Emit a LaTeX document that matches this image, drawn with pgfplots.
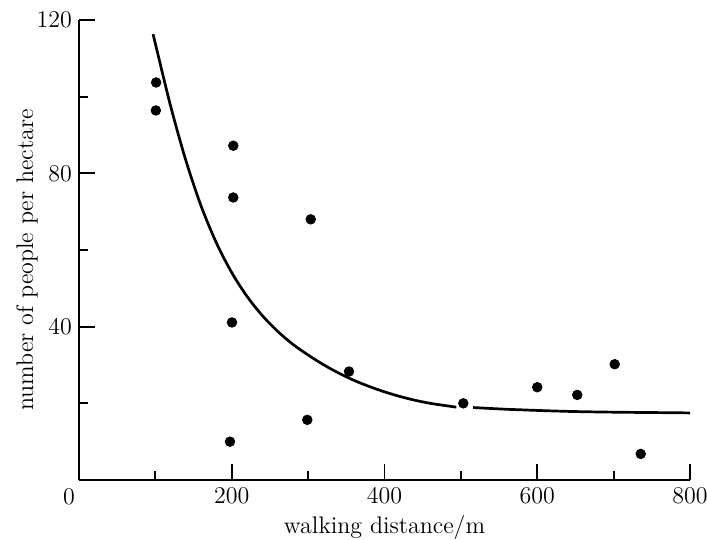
\documentclass[border=0pt]{standalone}
\usepackage{pgfplots}
\pgfplotsset{compat=1.18}
\begin{document}
\begin{tikzpicture}
\begin{axis}[
  name=ax,
  scale only axis,
  width=305.5pt, height=230pt,
  xmin=0, xmax=800, ymin=0, ymax=120,
  enlargelimits=false,
  axis lines=left,
  axis line style={-, line width=0.9pt},
  every tick/.style={line width=0.9pt, black},
  tick align=inside,
  major tick length=8pt,
  minor tick length=4.5pt,
  xtick={200,400,600,800},
  minor xtick={100,300,500,700},
  ytick={40,80,120},
  minor ytick={20,60,100},
  /pgf/number format/assume math mode=true,
  tick label style={font=\fontsize{12}{14}\selectfont},
  label style={font=\fontsize{12}{14}\selectfont},
  xlabel={walking distance/m},
  ylabel={number of people per hectare},
  x label style={at={(axis description cs:0.5,-0.1022)}, anchor=center},
  y label style={at={(axis description cs:-0.0851,0.478)}, anchor=center, rotate=0},
  clip=false,
]
\addplot[only marks, mark=*, mark size=2.4pt, black] coordinates {
  (101,103.7) (100.6,96.4) (202,87.2) (202,73.7) (200.3,41.1) (197.7,10.0)
  (303.4,68.0) (298.9,15.7) (353.5,28.3) (503.2,20.0) (600,24.2)
  (652.4,22.2) (701.4,30.2) (735.5,6.8)
};
\addplot[smooth, line width=1.35pt, black] coordinates {
  (97,116.3) (100,113.8) (120,97.5) (140,83.3) (160,71.4) (180,61.8)
  (200,54.1) (220,47.9) (240,42.9) (260,38.8) (280,35.4) (300,32.6)
  (320,30.1) (340,27.9) (360,26.0) (380,24.4) (400,23.0) (420,21.8)
  (440,20.8) (460,20.0) (480,19.4) (494,19.0)
};
\addplot[smooth, line width=1.35pt, black] coordinates {
  (516,18.9) (540,18.65) (560,18.45) (580,18.3) (600,18.15) (640,17.9)
  (680,17.75) (720,17.65) (760,17.58) (800,17.5)
};
\node[font=\fontsize{12}{14}\selectfont] at ([xshift=-5pt,yshift=-8.5pt]axis cs:0,0) {0};
\coordinate (bl) at (axis cs:0,0);
\coordinate (tr) at (axis cs:800,120);
\end{axis}
\pgfresetboundingbox
\path[use as bounding box] ([xshift=-39.5pt,yshift=-29.5pt]bl) rectangle ([xshift=8.5pt,yshift=10pt]tr);
\end{tikzpicture}
\end{document}
